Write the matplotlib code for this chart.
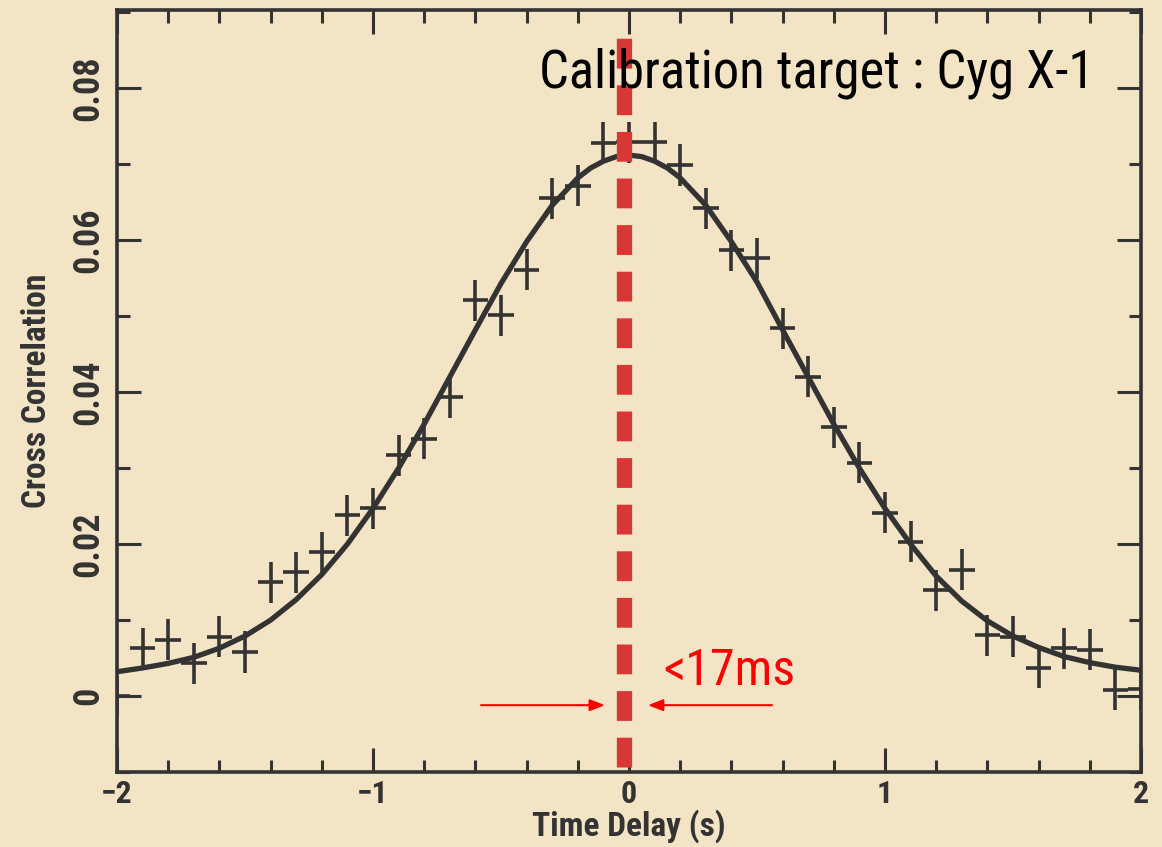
import matplotlib
matplotlib.use("Agg")
import matplotlib.pyplot as plt
from matplotlib.ticker import MultipleLocator, FixedLocator, FuncFormatter

# ---- data ----
delay = [-2.0, -1.9, -1.8, -1.7, -1.6, -1.5, -1.4, -1.3, -1.2, -1.1, -1.0,
         -0.9, -0.8, -0.7, -0.6, -0.5, -0.4, -0.3, -0.2, -0.1, 0.0,
         0.1, 0.2, 0.3, 0.4, 0.5, 0.6, 0.7, 0.8, 0.9, 1.0,
         1.1, 1.2, 1.3, 1.4, 1.5, 1.6, 1.7, 1.8, 1.9, 2.0]
corr = [0.0000, 0.0063, 0.0074, 0.0043, 0.0078, 0.0058, 0.0150, 0.0163, 0.0189, 0.0238, 0.0247,
        0.0317, 0.0339, 0.0393, 0.0521, 0.0501, 0.0561, 0.0655, 0.0672, 0.0728, 0.0729,
        0.0729, 0.0699, 0.0642, 0.0587, 0.0576, 0.0484, 0.0420, 0.0354, 0.0307, 0.0241,
        0.0203, 0.0139, 0.0166, 0.0080, 0.0078, 0.0037, 0.0063, 0.0061, 0.0008, 0.0009]
x_halfwidth = 0.05
y_err = 0.0027

fit_x = [-2.0, -1.9, -1.8, -1.7, -1.6, -1.5, -1.4, -1.3, -1.2, -1.1, -1.0,
         -0.9, -0.8, -0.7, -0.6, -0.5, -0.4, -0.3, -0.2, -0.15, -0.1, -0.05, 0.0,
         0.05, 0.1, 0.15, 0.2, 0.3, 0.4, 0.5, 0.6, 0.7, 0.8, 0.9, 1.0,
         1.1, 1.2, 1.3, 1.4, 1.5, 1.6, 1.7, 1.8, 1.9, 2.0]
fit_y = [0.0032, 0.0037, 0.0043, 0.0051, 0.0063, 0.0079, 0.0100, 0.0127, 0.0160, 0.0200, 0.0247,
         0.0300, 0.0358, 0.0420, 0.0482, 0.0543, 0.0598, 0.0646, 0.0682, 0.0695, 0.0704, 0.0710, 0.0712,
         0.0710, 0.0704, 0.0695, 0.0682, 0.0646, 0.0598, 0.0545, 0.0482, 0.0420, 0.0358, 0.0300, 0.0247,
         0.0200, 0.0158, 0.0125, 0.0099, 0.0079, 0.0064, 0.0052, 0.0044, 0.0038, 0.0034]

x_ticks = [-2, -1, 0, 1, 2]
y_ticks = [0, 0.02, 0.04, 0.06, 0.08]
title_text = "Calibration target : Cyg X-1"
limit_text = "<17ms"
x_label = "Time Delay (s)"
y_label = "Cross Correlation"
marker_delay = -0.02

# ---- styling ----
bg = "#f2e4c5"
ink = "#333333"
narrow = ["Liberation Sans Narrow", "Roboto Condensed", "DejaVu Sans Condensed",
          "Liberation Sans", "DejaVu Sans"]

fig = plt.figure(figsize=(11.62, 8.47), dpi=100, facecolor=bg)
ax = fig.add_axes([0.1007, 0.0885, 0.8812, 0.8997])
ax.set_facecolor(bg)

ax.plot(fit_x, fit_y, color=ink, lw=3.8, solid_capstyle="round", solid_joinstyle="round", zorder=3)
ax.errorbar(delay, corr, xerr=x_halfwidth, yerr=y_err, fmt="none",
            ecolor=ink, elinewidth=2.6, capsize=0, zorder=4)

# dashed marker drawn from the bottom so a dash meets the x axis
ax.plot([marker_delay, marker_delay], [-0.0094, 0.0879], color="#d93636",
        lw=11, dashes=(1.95, 1.1), solid_capstyle="butt", zorder=5)

ax.set_xlim(-2, 2)
ax.set_ylim(-0.0100, 0.0903)

ax.xaxis.set_major_locator(FixedLocator(x_ticks))
ax.xaxis.set_minor_locator(MultipleLocator(0.2))
ax.yaxis.set_major_locator(FixedLocator(y_ticks))
ax.yaxis.set_minor_locator(MultipleLocator(0.01))

ax.xaxis.set_major_formatter(FuncFormatter(lambda v, p: ("\u2212%d" % abs(v)) if v < 0 else "%d" % v))
ax.yaxis.set_major_formatter(FuncFormatter(lambda v, p: "0" if abs(v) < 1e-9 else ("%.2f" % v)))

ax.tick_params(which="both", direction="in", top=True, right=True, color=ink, width=2.2)
ax.tick_params(which="major", length=17)
ax.tick_params(which="minor", length=9)
ax.tick_params(axis="x", which="major", pad=5)
ax.tick_params(axis="y", which="major", pad=8)
for lab in ax.get_xticklabels():
    lab.set_fontfamily(narrow); lab.set_fontweight("bold"); lab.set_fontsize(23); lab.set_color(ink)
for lab in ax.get_yticklabels():
    lab.set_fontfamily(narrow); lab.set_fontweight("bold"); lab.set_fontsize(26)
    lab.set_color(ink); lab.set_rotation(90); lab.set_va("center")

for s in ax.spines.values():
    s.set_linewidth(2.6)
    s.set_color(ink)

xl = ax.set_xlabel(x_label, family=narrow, fontweight="bold", fontsize=24, color=ink, labelpad=0)
yl = ax.set_ylabel(y_label, family=narrow, fontweight="bold", fontsize=24, color=ink, labelpad=12)

t_title = ax.text(0.734, 0.0820, title_text, family=narrow, fontsize=39, color="black",
                  ha="center", va="center", zorder=6)
t_lim = ax.text(0.133, 0.0014, limit_text, family=narrow, fontsize=36, color="red",
                ha="left", va="baseline", zorder=6)

arrow_kw = dict(arrowstyle="-|>,head_length=0.9,head_width=0.35", color="red", lw=1.5,
                shrinkA=0, shrinkB=0)
ax.annotate("", xy=(-0.094, -0.0012), xytext=(-0.578, -0.0012), arrowprops=arrow_kw, zorder=6)
ax.annotate("", xy=(0.074, -0.0012), xytext=(0.559, -0.0012), arrowprops=arrow_kw, zorder=6)

# keep text lengths close to the reference when a narrow face is missing
renderer = fig.canvas.get_renderer()
def fit_length(txt, target_px, vertical=False):
    bb = txt.get_window_extent(renderer)
    cur = bb.height if vertical else bb.width
    if cur > target_px:
        txt.set_fontsize(txt.get_fontsize() * target_px / cur)

fit_length(t_title, 555)
fit_length(t_lim, 135)
fit_length(xl, 198)
fit_length(yl, 235, vertical=True)

fig.savefig("out.png", dpi=100, facecolor=bg)
